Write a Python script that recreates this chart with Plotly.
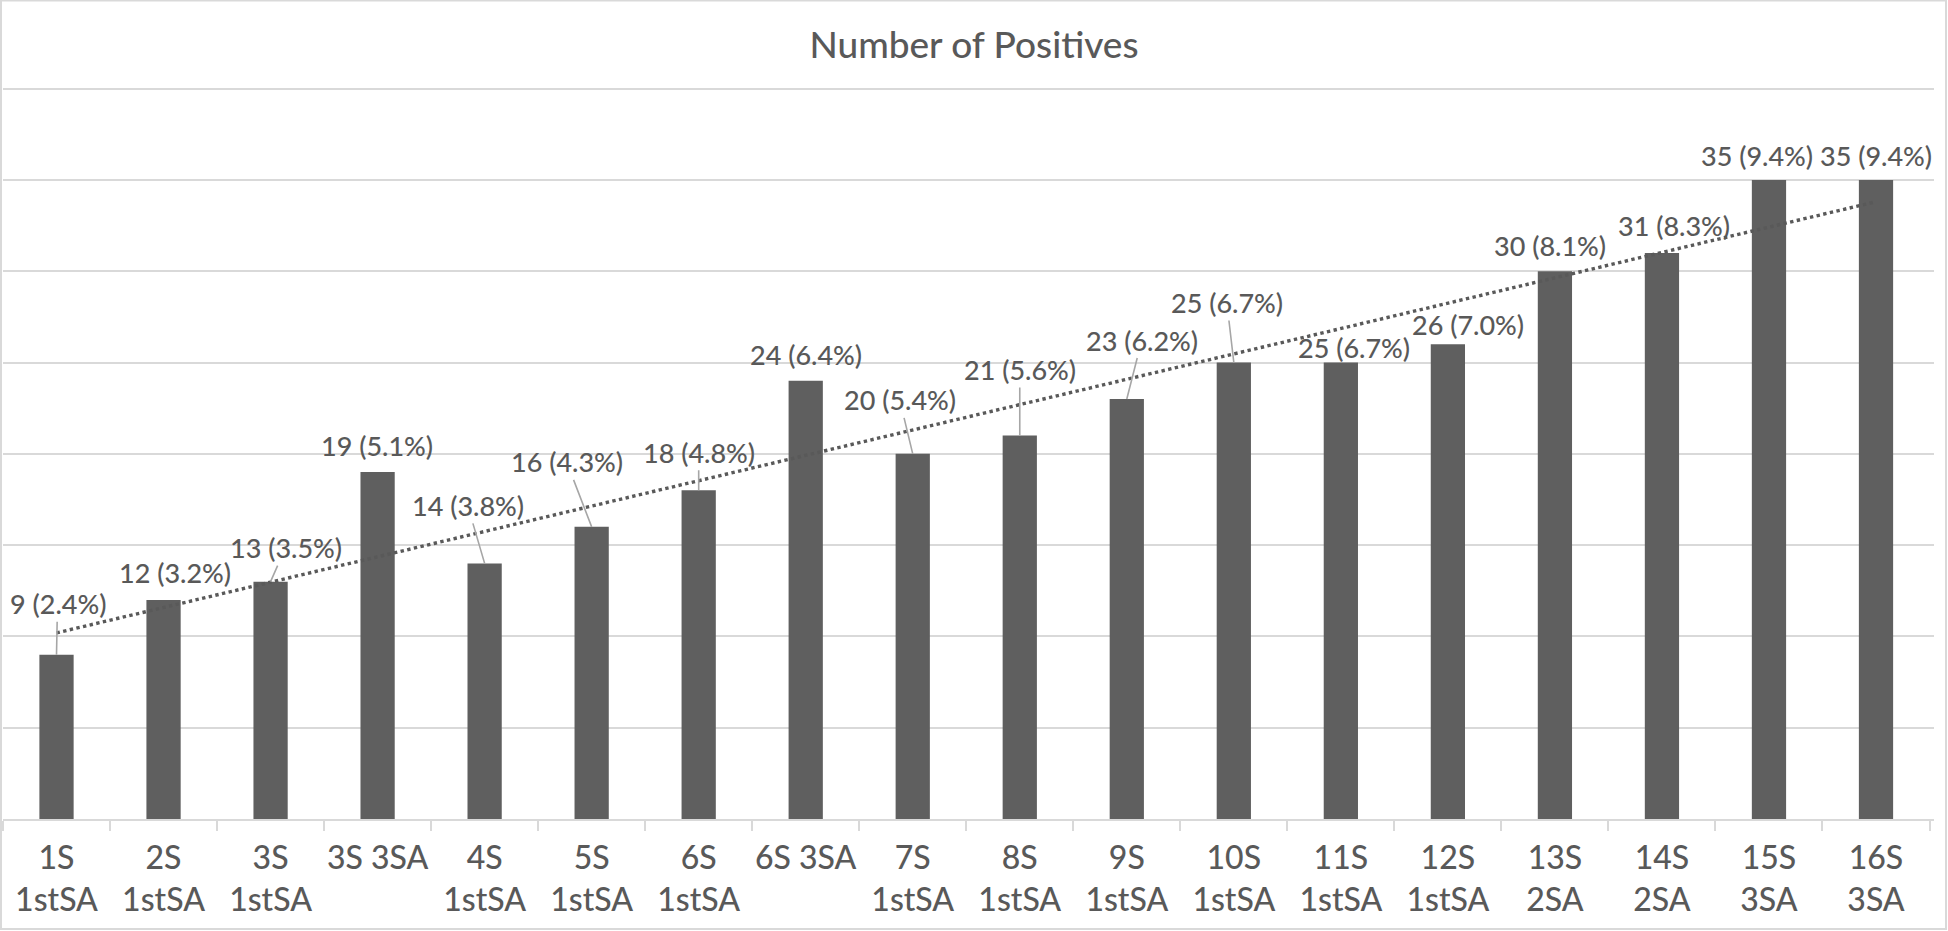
import numpy as np
import plotly.graph_objects as go

# ---------------- data ----------------
categories = ["1S<br>1stSA", "2S<br>1stSA", "3S<br>1stSA", "3S 3SA", "4S<br>1stSA",
              "5S<br>1stSA", "6S<br>1stSA", "6S 3SA", "7S<br>1stSA", "8S<br>1stSA",
              "9S<br>1stSA", "10S<br>1stSA", "11S<br>1stSA", "12S<br>1stSA", "13S<br>2SA",
              "14S<br>2SA", "15S<br>3SA", "16S<br>3SA"]
positives = [9, 12, 13, 19, 14, 16, 18, 24, 20, 21, 23, 25, 25, 26, 30, 31, 35, 35]
percents = ["2.4%", "3.2%", "3.5%", "5.1%", "3.8%", "4.3%", "4.8%", "6.4%", "5.4%",
            "5.6%", "6.2%", "6.7%", "6.7%", "7.0%", "8.1%", "8.3%", "9.4%", "9.4%"]
title_text = "Number of Positives"

# label placement (pixel offsets of label centre from bar top) and leader-line flags
label_dx = [1, 11, 15, -1, -17, -25, 0, 0, -13, 0, 15, -7, 13, 20, -5, 12, -12, 0]
label_dy = [-51, -27, -34, -27, -58, -65, -38, -26, -54, -66, -59, -60, -15, -20, -26, -27, -24, -24]
leader = [True, False, True, False, True, True, True, False, True, True, True, True,
          False, False, False, False, False, False]

# ---------------- styles ----------------
FONT = "Lato, 'Open Sans', sans-serif"
TEXT = "#595959"
BAR = "#5f5f5f"
GRID = "#d9d9d9"
LEADER = "#a6a6a6"

W, H = 1948, 931
Y_TOP = 40.2
ML, MR, MB = 3, 14, 112
PH_UNIT = (H - MB - 89) / 40.0          # pixels per unit so that 40 sits at y=89
PH = PH_UNIT * Y_TOP
MT = H - MB - PH
PW = W - ML - MR

# linear trendline (Excel-style) through the bar values
idx = np.arange(1, len(positives) + 1)
slope, intercept = np.polyfit(idx, positives, 1)
trend = slope * idx + intercept

fig = go.Figure()
fig.add_trace(go.Bar(x=categories, y=positives, marker=dict(color=BAR, line=dict(width=0)),
                     hoverinfo="x+y", showlegend=False))
fig.add_trace(go.Scatter(x=categories, y=trend, mode="lines",
                         line=dict(color=TEXT, width=3.4, dash="dot"),
                         hoverinfo="skip", showlegend=False))

annotations = []
for c, v, p, dx, dy, ld in zip(categories, positives, percents, label_dx, label_dy, leader):
    annotations.append(dict(
        x=c, y=v, xref="x", yref="y", text=f"{v} ({p})",
        showarrow=True, ax=dx, ay=dy, arrowhead=0, arrowwidth=1.6, standoff=0,
        arrowcolor=LEADER if ld else "rgba(0,0,0,0)",
        font=dict(family=FONT, size=27, color=TEXT, weight=500)))

# light border around the whole chart area
shapes = [dict(type="rect", xref="paper", yref="paper", layer="above",
               x0=(1 - ML) / PW, x1=(W - 2 - ML) / PW,
               y0=(H - MB - (H - 2)) / PH, y1=(H - MB - 1) / PH,
               line=dict(color=GRID, width=2), fillcolor="rgba(0,0,0,0)")]

fig.update_layout(
    width=W, height=H,
    margin=dict(l=ML, r=MR, t=MT, b=MB, pad=0),
    paper_bgcolor="white", plot_bgcolor="white",
    bargap=0.68,
    title=dict(text=title_text, x=0.5, xref="container", xanchor="center",
               y=1 - 45 / H, yref="container", yanchor="middle",
               font=dict(family=FONT, size=37, color=TEXT, weight=500)),
    xaxis=dict(type="category", tickson="boundaries", ticks="outside", ticklen=10,
               tickwidth=2, tickcolor=GRID, showline=True, linecolor=GRID, linewidth=2,
               showgrid=False, ticklabelstandoff=10, tickangle=0,
               tickfont=dict(family=FONT, size=32, color=TEXT, weight=500),
               automargin=False, fixedrange=True),
    yaxis=dict(range=[0, Y_TOP], dtick=5, showticklabels=False, showgrid=True,
               gridcolor=GRID, gridwidth=2, zeroline=False, showline=False,
               automargin=False, fixedrange=True),
    annotations=annotations,
    shapes=shapes,
)

fig.write_html("out.html", config={"displayModeBar": False},
               post_script="document.body.style.margin='0';")
